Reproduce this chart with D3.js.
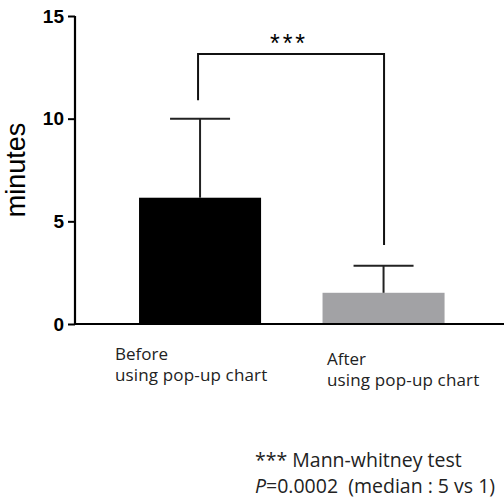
<!DOCTYPE html>
<html>
<head>
<meta charset="utf-8">
<script src="https://cdn.jsdelivr.net/npm/d3@7"></script>
<style>
  body { margin: 0; background: #fff; }
  svg { display: block; }
</style>
</head>
<body>
<svg></svg>
<script>
let categories = ['Before', 'After']
let subLabels = ['using pop-up chart', 'using pop-up chart']
let means = [6.15, 1.52]
let errs = [3.85, 1.32]
let yTicks = [0, 5, 10, 15]
let barColors = ['#000000', '#a2a2a5']
let bracketLevels = [10.9, 13.15, 3.85]   // left end, top, right end
let footnote = ['*** Mann-whitney test', '=0.0002  (median : 5 vs 1)']

let svgWidth = 504, svgHeight = 498
let svg = d3.select('svg').attr('width', svgWidth).attr('height', svgHeight)

let x0 = 75
let y = d3.scaleLinear().domain([0, 15]).range([324, 16])
let x = d3.scaleBand()
    .domain(categories)
    .range([x0, 508.6])
    .paddingInner(0.335)
    .paddingOuter(0.349)

// bars
svg.selectAll('rect.bar').data(categories).enter().append('rect')
    .attr('class', 'bar')
    .attr('x', d => x(d))
    .attr('width', x.bandwidth())
    .attr('y', (d, i) => y(means[i]))
    .attr('height', (d, i) => y(0) - y(means[i]))
    .attr('fill', (d, i) => barColors[i])

// error bars (upper only)
let eb = svg.selectAll('g.err').data(categories).enter().append('g')
eb.append('line')
    .attr('x1', d => x(d) + x.bandwidth() / 2)
    .attr('x2', d => x(d) + x.bandwidth() / 2)
    .attr('y1', (d, i) => y(means[i]))
    .attr('y2', (d, i) => y(means[i] + errs[i]))
    .attr('stroke', '#222').attr('stroke-width', 2)
eb.append('line')
    .attr('x1', d => x(d) + x.bandwidth() / 2 - 30)
    .attr('x2', d => x(d) + x.bandwidth() / 2 + 30)
    .attr('y1', (d, i) => y(means[i] + errs[i]))
    .attr('y2', (d, i) => y(means[i] + errs[i]))
    .attr('stroke', '#222').attr('stroke-width', 2)

// y axis
let yAxis = svg.append('g')
    .attr('transform', 'translate(' + x0 + ',0)')
    .call(d3.axisLeft(y).tickValues(yTicks).tickSize(7).tickPadding(4))
yAxis.select('.domain').attr('stroke', '#000').attr('stroke-width', 2.2)
    .attr('d', 'M0,' + y(15) + 'V' + y(0))
yAxis.selectAll('.tick line').attr('stroke', '#000').attr('stroke-width', 2)
yAxis.selectAll('.tick text')
    .attr('fill', '#000')
    .style('font-family', 'Liberation Sans, Arial, sans-serif')
    .style('font-size', '19px')
    .style('font-weight', 'bold')

// x axis baseline
svg.append('line')
    .attr('x1', x0 - 1).attr('x2', svgWidth)
    .attr('y1', y(0)).attr('y2', y(0))
    .attr('stroke', '#000').attr('stroke-width', 2.2)

// y label
svg.append('text')
    .attr('transform', 'translate(25,170) rotate(-90)')
    .attr('text-anchor', 'middle')
    .style('font-family', 'Liberation Sans, Arial, sans-serif')
    .style('font-size', '27px')
    .text('minutes')

// significance bracket
let cx = categories.map(d => x(d) + x.bandwidth() / 2)
svg.append('path')
    .attr('d', 'M' + (cx[0] - 2) + ',' + y(bracketLevels[0]) +
        'V' + y(bracketLevels[1]) + 'H' + (cx[1] + 0.5) + 'V' + y(bracketLevels[2]))
    .attr('fill', 'none').attr('stroke', '#111').attr('stroke-width', 2)
svg.append('text')
    .attr('x', 289).attr('y', 52)
    .attr('text-anchor', 'middle')
    .style('font-family', 'Liberation Sans, Arial, sans-serif')
    .style('font-size', '25px')
    .style('letter-spacing', '3px')
    .text('***')

// category labels, two lines each
let labelFont = 'Open Sans, Noto Sans, sans-serif'
let labX = [115, 327], labY = [360, 365]
categories.forEach((c, i) => {
    svg.append('text')
        .attr('x', labX[i]).attr('y', labY[i])
        .style('font-family', labelFont)
        .style('font-size', '17px')
        .attr('fill', '#222')
        .text(c)
    svg.append('text')
        .attr('x', labX[i]).attr('y', labY[i] + 21)
        .style('font-family', labelFont)
        .style('font-size', '17px')
        .style('letter-spacing', '0.15px')
        .attr('fill', '#222')
        .text(subLabels[i])
})

// footnote
svg.append('text')
    .attr('x', 255).attr('y', 467)
    .style('font-family', labelFont)
    .style('font-size', '19.5px')
    .style('white-space', 'pre')
    .attr('fill', '#222')
    .text(footnote[0])
let l2 = svg.append('text')
    .attr('x', 255).attr('y', 493)
    .style('font-family', labelFont)
    .style('font-size', '19.5px')
    .style('white-space', 'pre')
    .attr('fill', '#222')
l2.append('tspan').style('font-style', 'italic').text('P')
l2.append('tspan').text(footnote[1])
</script>
</body>
</html>
